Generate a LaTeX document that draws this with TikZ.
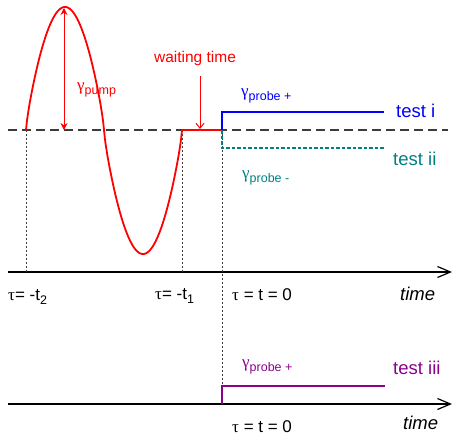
\documentclass[tikz,border=0pt]{standalone}
\usepackage{fontspec}
\setmainfont{Liberation Sans}
\newfontfamily\grk{Liberation Serif}
\usetikzlibrary{arrows.meta}
\definecolor{pumpred}{RGB}{255,0,0}
\definecolor{probeblue}{RGB}{0,0,255}
\definecolor{probeteal}{RGB}{0,128,128}
\definecolor{probepurple}{RGB}{140,0,140}
\definecolor{guide}{RGB}{60,60,60}
\newcommand\lowsub[1]{\raisebox{-0.4ex}{\fontsize{12.5}{13}\selectfont #1}}
\newcommand\bigtxt{\fontsize{18.5}{20}\selectfont}
\newcommand\midtxt{\fontsize{17}{19}\selectfont}
\tikzset{
  axis/.style={line width=1.2pt, black, -{Straight Barb[length=13pt,width=11pt,line width=1.2pt]}},
  baseline/.style={line width=1.2pt, guide, dash pattern=on 9pt off 5pt},
  guideline/.style={line width=1pt, guide, dash pattern=on 2pt off 2pt},
  pump/.style={line width=1.8pt, pumpred},
  lbl/.style={inner sep=0pt, anchor=west},
}
\begin{document}
\begin{tikzpicture}[x=1pt,y=-1pt]
\useasboundingbox (0,0) rectangle (453,439);
% coordinates
\coordinate (bl) at (8,130);
\coordinate (br) at (448,130);
\coordinate (a1l) at (8,272);
\coordinate (a1r) at (452,272);
\coordinate (a2l) at (8,404);
\coordinate (a2r) at (452,404);
\coordinate (s0) at (26,130);
\coordinate (s0b) at (26,272);
\coordinate (s1) at (182,130);
\coordinate (s1b) at (182,272);
\coordinate (z0) at (222,130);
\coordinate (z0b) at (222,404);
\coordinate (pk) at (64,8);
\coordinate (pkb) at (64,130);
\coordinate (wt) at (200,76);
\coordinate (wtb) at (200,129);
\coordinate (bu) at (222,112);
\coordinate (bue) at (384,112);
\coordinate (td) at (222,148);
\coordinate (tde) at (384,148);
\coordinate (pu) at (222,386);
\coordinate (pue) at (385,386);
% baseline and axes
\draw[baseline] (bl) -- (br);
\draw[axis] (a1l) -- (a1r);
\draw[axis] (a2l) -- (a2r);
% guides
\draw[guideline] (s0) -- (s0b);
\draw[guideline] (s1) -- (s1b);
\draw[guideline] (z0) -- (z0b);
% pump
\draw[pump] plot[domain=0:180, samples=90] ({26+0.43333*\x}, {130-123*pow(max(sin(\x),0.00001),0.8)})
  -- plot[domain=180:360, samples=90] ({26+0.43333*\x}, {130+124*pow(max(-sin(\x),0.00001),0.8)});
\draw[pump] (s1) -- (z0);
\draw[pumpred, line width=1pt, {Stealth[length=7pt,width=7pt]}-{Stealth[length=7pt,width=7pt]}] (pk) -- (pkb);
\draw[pumpred, line width=1pt, -{Straight Barb[length=5pt,width=8pt]}] (wt) -- (wtb);
% probes
\draw[line width=1.8pt, probeblue] (z0) -- (bu) -- (bue);
\draw[line width=1.5pt, probeteal, dash pattern=on 3.5pt off 2pt] (z0) -- (td) -- (tde);
\draw[line width=1.5pt, probepurple] (z0b) -- (pu) -- (pue);
% labels
\node[lbl, pumpred, anchor=center] (lwt) at (195,58) {\fontsize{15.5}{17}\selectfont waiting time};
\node[lbl, pumpred] (lpump) at (77,90) {\midtxt{\grk γ}\lowsub{pump}};
\node[lbl, probeblue] (lpb) at (241,96) {\midtxt{\grk γ}\lowsub{probe +}};
\node[lbl, probeblue] (lti) at (396,111) {\bigtxt test i};
\node[lbl, probeteal] (ltii) at (393,159) {\bigtxt test ii};
\node[lbl, probeteal] (lpm) at (242,178) {\midtxt{\grk γ}\lowsub{probe -}};
\node[lbl, probepurple] (ltiii) at (393,368) {\bigtxt test iii};
\node[lbl, probepurple] (lpp) at (242,367) {\midtxt{\grk γ}\lowsub{probe +}};
\node[lbl] (lt2) at (8,297) {\midtxt{\grk τ}= -t\lowsub{2}};
\node[lbl] (lt1) at (155,296) {\midtxt{\grk τ}= -t\lowsub{1}};
\node[lbl] (lt0) at (232,295) {\midtxt{\grk τ} = t = 0};
\node[lbl] (ltime) at (400,294) {\bigtxt\itshape time};
\node[lbl] (lt0b) at (232,427) {\midtxt{\grk τ} = t = 0};
\node[lbl] (ltimeb) at (403,423) {\bigtxt\itshape time};
\end{tikzpicture}
\end{document}
